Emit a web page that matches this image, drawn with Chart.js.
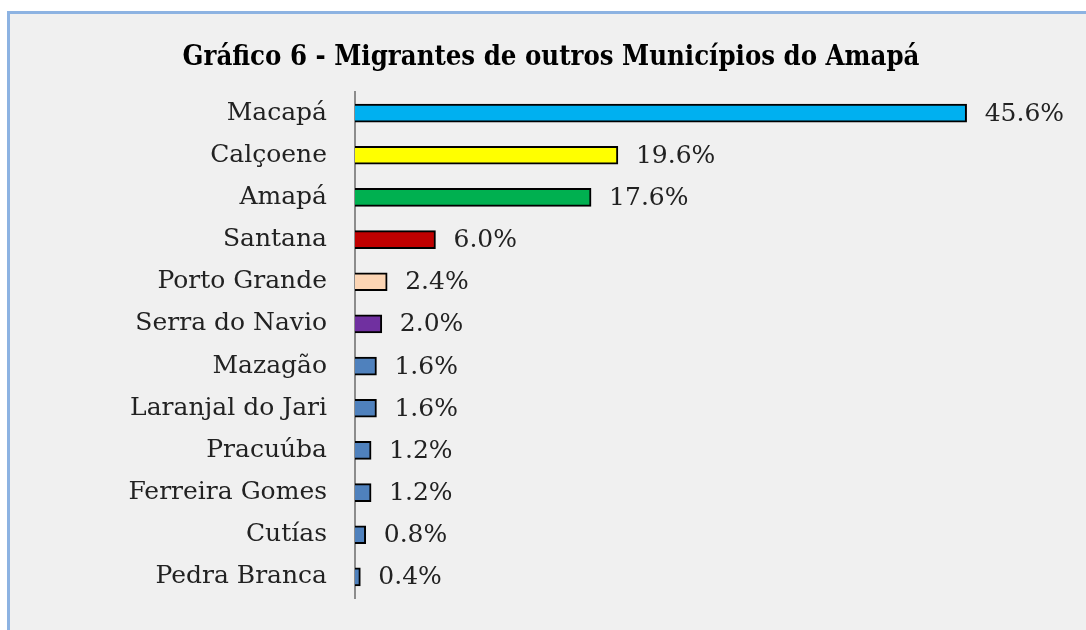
<!DOCTYPE html>
<html>
<head>
<meta charset="utf-8">
<script src="https://cdn.jsdelivr.net/npm/chart.js@4.4.1/dist/chart.umd.min.js"></script>
<style>
  html, body { margin: 0; padding: 0; background: #ffffff; }
  #frame { position: absolute; left: 7px; top: 11px; width: 1079px; height: 619px; background: #8db3e2; }
  #wrap { position: absolute; left: 10px; top: 14px; width: 1076px; height: 616px; background: #f0f0f0; }
</style>
</head>
<body>
<div id="frame"></div>
<div id="wrap"><canvas id="c" width="1076" height="616"></canvas></div>
<script>
const titleText = 'Gráfico 6 - Migrantes de outros Municípios do Amapá';
const categories = ['Macapá','Calçoene','Amapá','Santana','Porto Grande','Serra do Navio','Mazagão','Laranjal do Jari','Pracuúba','Ferreira Gomes','Cutías','Pedra Branca'];
const values = [45.6, 19.6, 17.6, 6.0, 2.4, 2.0, 1.6, 1.6, 1.2, 1.2, 0.8, 0.4];
const barColors = ['#00b0f0','#ffff00','#00b050','#c00000','#fcd5b4','#7030a0','#4f81bd','#4f81bd','#4f81bd','#4f81bd','#4f81bd','#4f81bd'];

const FONT = "'DejaVu Serif', 'Liberation Serif', serif";
const TITLE_FONT = "'DejaVu Serif Condensed', 'DejaVu Serif', serif";

// choose title size so its width matches the reference (~737px)
const mctx = document.createElement('canvas').getContext('2d');
mctx.font = 'bold 27px ' + TITLE_FONT;
let titleSize = 27 * 737 / mctx.measureText(titleText).width;
titleSize = Math.min(28, titleSize);

const valueLabels = {
  id: 'valueLabels',
  afterDatasetsDraw(chart) {
    const ctx = chart.ctx;
    const meta = chart.getDatasetMeta(0);
    ctx.save();
    ctx.font = '25px ' + FONT;
    ctx.fillStyle = '#222222';
    ctx.textAlign = 'left';
    ctx.textBaseline = 'middle';
    meta.data.forEach((bar, i) => {
      ctx.fillText(values[i].toFixed(1) + '%', bar.x + 18, bar.y + 1);
    });
    ctx.restore();
  }
};

new Chart(document.getElementById('c'), {
  type: 'bar',
  data: {
    labels: categories,
    datasets: [{
      data: values,
      backgroundColor: barColors,
      borderColor: '#000000',
      borderWidth: 2,
      borderSkipped: 'start',
      barThickness: 18
    }]
  },
  options: {
    indexAxis: 'y',
    responsive: false,
    animation: false,
    layout: { padding: { left: 6, right: 0, top: 0, bottom: 32 } },
    plugins: {
      legend: { display: false },
      tooltip: { enabled: false },
      title: {
        display: true,
        text: titleText,
        color: '#000000',
        font: { family: TITLE_FONT, size: titleSize, weight: 'bold', lineHeight: 1.2 },
        padding: { top: 44 - titleSize * 0.6, bottom: 78 - 44 - titleSize * 0.6 }
      }
    },
    scales: {
      x: { display: false, min: 0, max: 54.5, afterFit(scale) { scale.height = 0; } },
      y: {
        grid: { display: false, drawTicks: false },
        border: { display: true, color: '#8c8c8c', width: 2 },
        ticks: { color: '#222222', padding: 28, font: { family: FONT, size: 25 } },
        afterFit(scale) {
          scale.width = 339;
          scale.paddingTop = 0;
          scale.paddingBottom = 0;
        }
      }
    }
  },
  plugins: [valueLabels]
});
</script>
</body>
</html>
